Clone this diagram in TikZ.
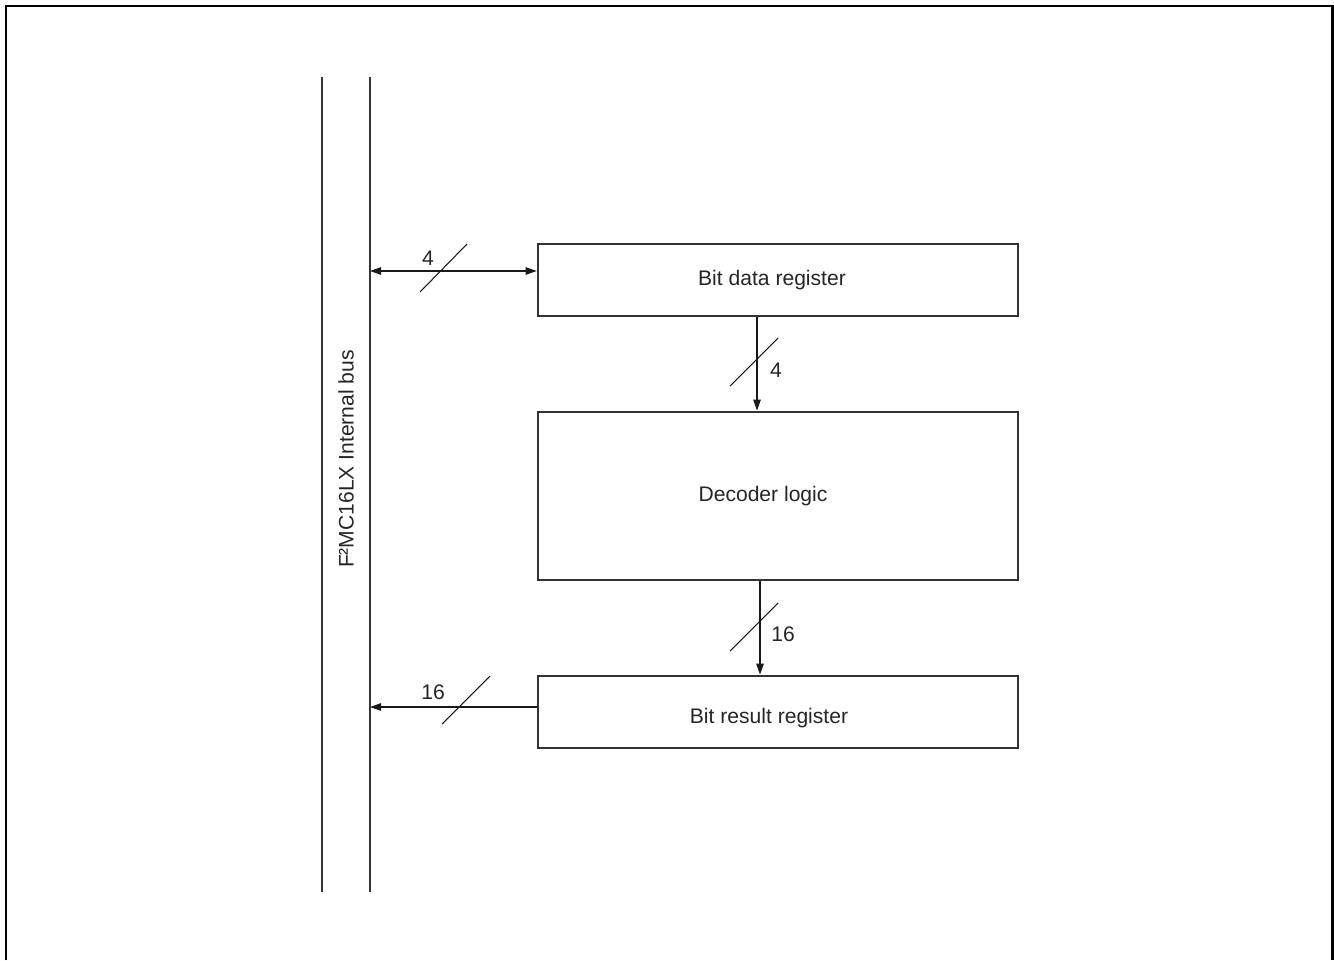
\documentclass[tikz,border=0pt]{standalone}
\usepackage{fontspec}
\setmainfont{Liberation Sans}
\usetikzlibrary{arrows.meta,calc}
\begin{document}
\begin{tikzpicture}[
    x=0.02cm, y=-0.02cm,
    bd frame/.style={
        line width=1.7pt,
        draw=black
    },
    bd bus/.style={
        line width=1.2pt,
        draw=black!80
    },
    bd block/.style={
        draw=black!80,
        line width=1.6pt,
        minimum width=9.6cm,
        inner sep=0pt
    },
    bd text/.style={
        font=\fontsize{12}{14}\selectfont,
        text=black!85
    },
    bd link/.style={
        line width=0.6pt,
        draw=black!90,
        arrows={-Triangle[length=2.2mm,width=1.5mm]}
    },
    bd slash/.style={
        line width=0.6pt,
        draw=black!90
    }
]
    \useasboundingbox (0,0) rectangle (1334,960);

    % Rahmen (unten abgeschnitten)
    \draw[bd frame] (6,960) -- (6,6) -- (1332,6) -- (1332,960);

    % Interner Bus
    \coordinate (busL top) at (322,77);
    \coordinate (busL bot) at (322,892);
    \coordinate (busR top) at (370,77);
    \coordinate (busR bot) at (370,892);
    \draw[bd bus] (busL top) -- (busL bot);
    \draw[bd bus] (busR top) -- (busR bot);
    \node[bd text, rotate=90] (buslabel) at (346,459)
        {F²MC16LX Internal bus};

    % Bloecke
    \node[bd block, minimum height=1.44cm,
        label={[bd text, xshift=-0.12cm]center:Bit data register}]
        (datareg) at (778,280) {};
    \node[bd block, minimum height=3.36cm,
        label={[bd text, xshift=-0.3cm]center:Decoder logic}]
        (decoder) at (778,496) {};
    \node[bd block, minimum height=1.44cm,
        label={[bd text, xshift=-0.18cm, yshift=-0.12cm]center:Bit result register}]
        (resreg) at (778,712) {};

    % Datenpfade mit Busbreiten
    \coordinate (busIn) at (370,271);
    \coordinate (busOut) at (370,707);
    \coordinate (dataIn) at (757,0);
    \coordinate (decOut) at (760,0);

    \draw[bd link, arrows={Triangle[length=2.2mm,width=1.5mm]-Triangle[length=2.2mm,width=1.5mm]}]
        (busIn) -- (busIn -| datareg.west);
    \draw[bd slash] (443,268) +(-23,24) -- +(24,-24);
    \node[bd text] (w1) at (428,258) {4};

    \draw[bd link] (dataIn |- datareg.south) -- (dataIn |- decoder.north);
    \draw[bd slash] (754,362) +(-24,24) -- +(24,-24);
    \node[bd text] (w2) at (776,370) {4};

    \draw[bd link] (decOut |- decoder.south) -- (decOut |- resreg.north);
    \draw[bd slash] (754,627) +(-24,24) -- +(24,-24);
    \node[bd text] (w3) at (783,634) {16};

    \draw[bd link] (busOut -| resreg.west) -- (busOut);
    \draw[bd slash] (466,700) +(-24,24) -- +(24,-24);
    \node[bd text] (w4) at (433,692) {16};
\end{tikzpicture}
\end{document}
